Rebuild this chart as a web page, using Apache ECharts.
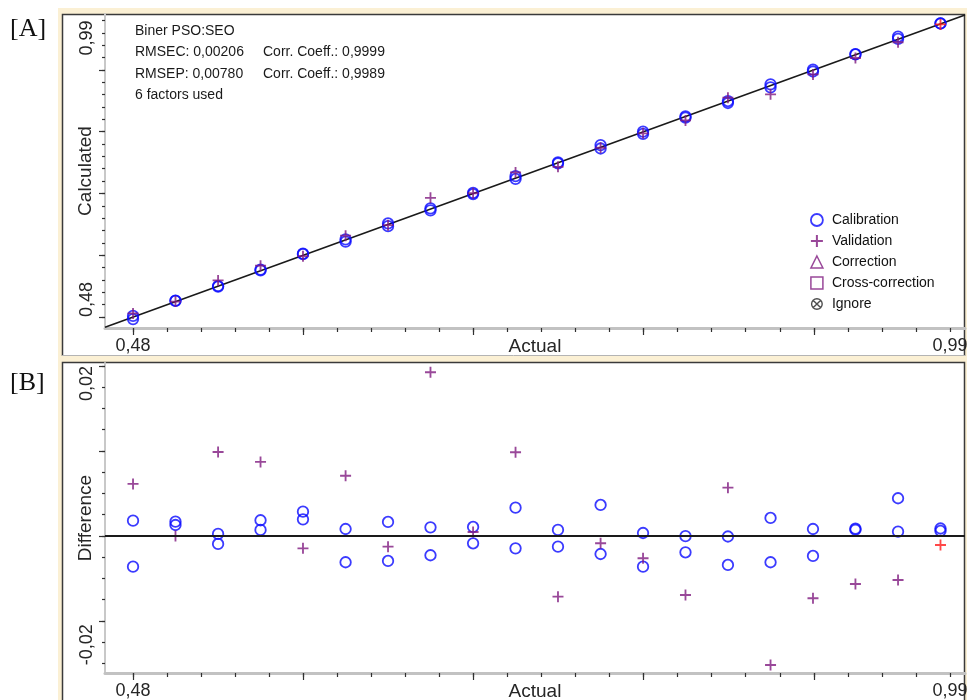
<!DOCTYPE html>
<html>
<head>
<meta charset="utf-8">
<script src="https://cdn.jsdelivr.net/npm/echarts@6/dist/echarts.min.js"></script>
<style>
  html, body { margin: 0; padding: 0; background: #ffffff; }
  #chart { width: 967px; height: 700px; }
</style>
</head>
<body>
<div id="chart"></div>
<script>
// Actual concentration of each reference level (shared x values of both panels)
const actualLevels = [0.4800, 0.5065, 0.5331, 0.5596, 0.5861, 0.6127, 0.6392, 0.6657, 0.6923, 0.7188,
                      0.7453, 0.7719, 0.7984, 0.8249, 0.8514, 0.8780, 0.9045, 0.9310, 0.9576, 0.9841];

// Calibration residuals (calculated - actual), two calibration spectra per level
const calibrationDiffA = [0.00180, 0.00168, 0.00024, 0.00185, 0.00286, 0.00082, 0.00165, 0.00102, 0.00106, 0.00333,
                          0.00071, 0.00365, 0.00035, -0.00002, -0.00006, 0.00212, 0.00082, 0.00086, 0.00444, 0.00088];
const calibrationDiffB = [-0.00361, 0.00129, -0.00094, 0.00071, 0.00196, -0.00309, -0.00294, -0.00227, -0.00086, -0.00145,
                          -0.00126, -0.00212, -0.00361, -0.00192, -0.00341, -0.00309, -0.00235, 0.00073, 0.00051, 0.00059];

// Validation residuals, one validation spectrum per level
const validationDiff = [0.00612, 0.00000, 0.00988, 0.00871, -0.00145, 0.00709, -0.00126, 0.01926, 0.00047, 0.00985,
                        -0.00714, -0.00086, -0.00262, -0.00694, 0.00568, -0.01518, -0.00733, -0.00565, -0.00518, -0.00106];

// Validation sample shown in red (currently selected spectrum)
const highlightedValidation = 19;

// Model statistics printed in the corner of the upper panel
const modelName = 'Biner PSO:SEO';
const rmsec = '0,00206', corrCal = '0,9999';
const rmsep = '0,00780', corrVal = '0,9989';
const factorsUsed = 6;

// Axis end labels
const actualLabelValues = [0.48, 0.99];
const calculatedLabelValues = [0.48, 0.99];
const differenceLabelValues = [-0.0152, 0.02];

// Tick layout
const actualTickStart = 0.48, actualTickStep = 0.02125, actualTickCount = 25, actualMajorEvery = 5;
const diffTickStart = -0.015, diffTickStep = 0.0025, diffTickCount = 15;
const diffMajorTicks = [-0.01, 0, 0.01, 0.02];

// Axis extents
const X_RANGE = [0.4625, 0.9994];
const CALC_RANGE = [0.4611, 1.0010];
const DIFF_RANGE = [-0.01612, 0.02035];

const BLUE = '#0a0aff';
const PURPLE = '#801a80';
const RED = '#ff1a1a';
const LABEL = '#262626';
const FONT = 'Liberation Sans, Arial, sans-serif';

const PLUS = 'path://M0,5H5V0H7V5H12V7H7V12H5V7H0Z';
const IGNORE = 'path://M0,6A6,6 0 1,1 12,6A6,6 0 1,1 0,6Z M1.4,6A4.6,4.6 0 1,0 10.6,6A4.6,4.6 0 1,0 1.4,6Z ' +
               'M1.9,2.9L2.9,1.9L10.1,9.1L9.1,10.1Z M9.1,1.9L10.1,2.9L2.9,10.1L1.9,9.1Z';

function fmt(v) { return v.toFixed(2).replace('.', ','); }
function ticksFrom(start, step, count) {
  const t = [];
  for (let i = 0; i < count; i++) t.push(+(start + i * step).toFixed(6));
  return t;
}
const actualTicks = ticksFrom(actualTickStart, actualTickStep, actualTickCount);
const actualMajorTicks = actualTicks.filter((_, i) => i % actualMajorEvery === 0);
const diffTicks = ticksFrom(diffTickStart, diffTickStep, diffTickCount);

const tickLine = { color: '#303030', width: 1.2 };

// Two x axes per grid: line + major ticks + labels, and a second one for minor ticks
function buildXAxes(gridIndex) {
  return [
    {
      type: 'value', gridIndex, min: X_RANGE[0], max: X_RANGE[1], position: 'bottom',
      name: 'Actual', nameLocation: 'middle', nameGap: 9, nameMoveOverlap: false,
      nameTextStyle: { fontSize: 19, color: LABEL, fontFamily: FONT, verticalAlign: 'top' },
      axisLine: { show: true, onZero: false, lineStyle: { color: '#c2c2c2', width: 3 } },
      axisTick: { show: true, length: 7, customValues: actualMajorTicks, lineStyle: tickLine },
      axisLabel: { customValues: actualLabelValues, formatter: fmt, margin: 9, fontSize: 18,
                   color: LABEL, fontFamily: FONT },
      splitLine: { show: false }
    },
    {
      type: 'value', gridIndex, min: X_RANGE[0], max: X_RANGE[1], position: 'bottom',
      axisLine: { show: false, onZero: false },
      axisTick: { show: true, length: 4, customValues: actualTicks, lineStyle: tickLine },
      axisLabel: { show: false }, splitLine: { show: false }
    }
  ];
}

// Four y axes per grid: line/major ticks/name, min label, max label, minor ticks
function buildYAxes(gridIndex, range, name, majors, minors, labels) {
  const base = { type: 'value', gridIndex, min: range[0], max: range[1], position: 'left', splitLine: { show: false } };
  const hidden = { show: false, onZero: false };
  const labelStyle = { rotate: 90, margin: 9, fontSize: 18, color: LABEL, fontFamily: FONT,
                       verticalAlign: 'bottom', formatter: fmt };
  return [
    Object.assign({}, base, {
      name, nameLocation: 'middle', nameGap: 10, nameMoveOverlap: false,
      nameTextStyle: { fontSize: 19, color: LABEL, fontFamily: FONT },
      axisLine: { show: true, onZero: false, lineStyle: { color: '#c8c8c8', width: 2 } },
      axisTick: { show: true, length: 6, customValues: majors, lineStyle: tickLine },
      axisLabel: { show: false }
    }),
    Object.assign({}, base, {
      axisLine: hidden, axisTick: { show: false },
      axisLabel: Object.assign({}, labelStyle, { customValues: [labels[0]], align: 'left' })
    }),
    Object.assign({}, base, {
      axisLine: hidden, axisTick: { show: false },
      axisLabel: Object.assign({}, labelStyle, { customValues: [labels[1]], align: 'right' })
    }),
    Object.assign({}, base, {
      axisLine: hidden,
      axisTick: { show: true, length: 3, customValues: minors, lineStyle: tickLine },
      axisLabel: { show: false }
    })
  ];
}

// Scatter data for both panels
const calibrationCalc = [];
const calibrationDiff = [];
actualLevels.forEach((x, i) => {
  calibrationCalc.push([x, x + calibrationDiffA[i]], [x, x + calibrationDiffB[i]]);
  calibrationDiff.push([x, calibrationDiffA[i]], [x, calibrationDiffB[i]]);
});
function validationPoint(x, y, i) {
  return i === highlightedValidation ? { value: [x, y], itemStyle: { color: RED } } : [x, y];
}
const validationCalc = actualLevels.map((x, i) => validationPoint(x, x + validationDiff[i], i));
const validationResid = actualLevels.map((x, i) => validationPoint(x, validationDiff[i], i));

const circleStyle = { color: 'rgba(0,0,0,0)', borderColor: BLUE, borderWidth: 1.8 };

const chart = echarts.init(document.getElementById('chart'), null, { renderer: 'canvas' });

chart.setOption({
  animation: false,
  backgroundColor: '#ffffff',
  textStyle: { fontFamily: FONT },
  graphic: [
    { type: 'rect', z: -20, shape: { x: 58, y: 8, width: 909, height: 350 }, style: { fill: '#fbf0d4' } },
    { type: 'rect', z: -20, shape: { x: 58, y: 356, width: 909, height: 344 }, style: { fill: '#fbf0d4' } },
    { type: 'rect', z: -19, shape: { x: 62, y: 14, width: 903, height: 342 }, style: { fill: '#ffffff' } },
    { type: 'rect', z: -19, shape: { x: 62, y: 362, width: 903, height: 338 }, style: { fill: '#ffffff' } },
    { type: 'polyline', z: -18, shape: { points: [[62.5, 356], [62.5, 14.5], [964.5, 14.5], [964.5, 356]] },
      style: { stroke: '#3a3a3a', lineWidth: 1.5, fill: null } },
    { type: 'line', z: -18, shape: { x1: 62, y1: 355.5, x2: 965, y2: 355.5 }, style: { stroke: '#b4b4b4', lineWidth: 1 } },
    { type: 'polyline', z: -18, shape: { points: [[62.5, 700], [62.5, 362.5], [964.5, 362.5], [964.5, 700]] },
      style: { stroke: '#3a3a3a', lineWidth: 1.5, fill: null } },
    { type: 'text', left: 10, top: 16, style: { text: '[A]', font: '26px "Liberation Serif", "Times New Roman", serif', fill: '#111' } },
    { type: 'text', left: 10, top: 370, style: { text: '[B]', font: '26px "Liberation Serif", "Times New Roman", serif', fill: '#111' } }
  ],
  title: {
    left: 130, top: 15,
    text: modelName + '\n' +
          '{c|RMSEC: ' + rmsec + '}Corr. Coeff.: ' + corrCal + '\n' +
          '{c|RMSEP: ' + rmsep + '}Corr. Coeff.: ' + corrVal + '\n' +
          factorsUsed + ' factors used',
    textStyle: {
      fontSize: 14, fontWeight: 'normal', color: '#1a1a1a', fontFamily: FONT, lineHeight: 21.5,
      rich: { c: { width: 128, fontSize: 14, color: '#1a1a1a', fontFamily: FONT, lineHeight: 21.5 } }
    }
  },
  legend: {
    orient: 'vertical', left: 810, top: 213, padding: 0,
    itemWidth: 12, itemHeight: 12, itemGap: 7, selectedMode: false,
    textStyle: { fontSize: 14, color: '#111', fontFamily: FONT, padding: [0, 0, 0, 4] },
    data: [
      { name: 'Calibration', icon: 'circle', itemStyle: { color: '#ffffff', borderColor: BLUE, borderWidth: 1.8 } },
      { name: 'Validation', icon: PLUS, itemStyle: { color: PURPLE, borderWidth: 0 } },
      { name: 'Correction', icon: 'triangle', itemStyle: { color: '#ffffff', borderColor: PURPLE, borderWidth: 1.5 } },
      { name: 'Cross-correction', icon: 'rect', itemStyle: { color: '#ffffff', borderColor: PURPLE, borderWidth: 1.5 } },
      { name: 'Ignore', icon: IGNORE, itemStyle: { color: '#222', borderWidth: 0 } }
    ]
  },
  grid: [
    { left: 105, top: 14, width: 860, height: 314, outerBoundsMode: 'none', containLabel: false },
    { left: 105, top: 363, width: 860, height: 310, outerBoundsMode: 'none', containLabel: false }
  ],
  xAxis: [].concat(buildXAxes(0), buildXAxes(1)),
  yAxis: [].concat(
    buildYAxes(0, CALC_RANGE, 'Calculated', actualMajorTicks, actualTicks, calculatedLabelValues),
    buildYAxes(1, DIFF_RANGE, 'Difference', diffMajorTicks, diffTicks, differenceLabelValues)
  ),
  series: [
    // y = x reference line of the upper panel
    { type: 'line', xAxisIndex: 0, yAxisIndex: 0, silent: true, showSymbol: false, z: 1,
      data: [[X_RANGE[0], X_RANGE[0]], [X_RANGE[1], X_RANGE[1]]],
      lineStyle: { color: '#1a1a1a', width: 1.6 } },
    { name: 'Calibration', type: 'scatter', xAxisIndex: 0, yAxisIndex: 0, symbol: 'circle', symbolSize: 10.5,
      itemStyle: circleStyle, data: calibrationCalc },
    { name: 'Validation', type: 'scatter', xAxisIndex: 0, yAxisIndex: 0, symbol: PLUS, symbolSize: 11,
      itemStyle: { color: PURPLE }, data: validationCalc },
    { name: 'Correction', type: 'scatter', xAxisIndex: 0, yAxisIndex: 0, symbol: 'triangle', data: [] },
    { name: 'Cross-correction', type: 'scatter', xAxisIndex: 0, yAxisIndex: 0, symbol: 'rect', data: [] },
    { name: 'Ignore', type: 'scatter', xAxisIndex: 0, yAxisIndex: 0, symbol: IGNORE, data: [] },

    // Residual panel
    { name: 'Calibration', type: 'scatter', xAxisIndex: 2, yAxisIndex: 4, symbol: 'circle', symbolSize: 10.5,
      itemStyle: circleStyle, data: calibrationDiff,
      markLine: { silent: true, symbol: ['none', 'none'], label: { show: false },
                  lineStyle: { color: '#1a1a1a', width: 2, type: 'solid' }, data: [{ yAxis: 0 }] } },
    { name: 'Validation', type: 'scatter', xAxisIndex: 2, yAxisIndex: 4, symbol: PLUS, symbolSize: 11,
      itemStyle: { color: PURPLE }, data: validationResid }
  ]
});
</script>
</body>
</html>
